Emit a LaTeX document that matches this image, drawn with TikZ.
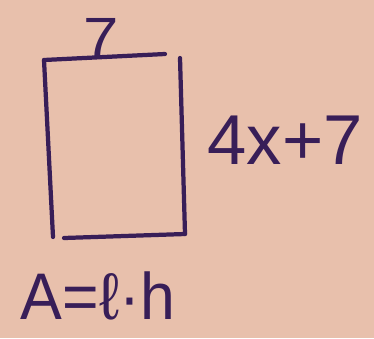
\documentclass[tikz,border=0pt]{standalone}
\usepackage[rgb]{xcolor}
\usepackage{tikz}
\usepackage{fontspec}
\setmainfont{Liberation Sans}
\definecolor{paper}{RGB}{232,192,172}
\definecolor{ink}{RGB}{56,30,88}

\begin{document}
\begin{tikzpicture}[x=0.85pt, y=-0.85pt,
  inkline/.style={draw=ink, line width=3.6pt, line cap=round},
  inktext/.style={text=ink, inner sep=0pt}]

% sheet of paper
\fill[paper] (0,0) rectangle (374,338);
\useasboundingbox (0,0) rectangle (374,338);

% corners of the hand drawn box
\path
(44,60) coordinate (topleft)
(165,54) coordinate (topright)
(53,237) coordinate (bottomleft)
(180,58) coordinate (righttop)
(185,234) coordinate (bottomright)
(64,238) coordinate (bottomstart);

% the four sides
\draw[inkline] (topleft) -- (topright);
\draw[inkline] (topleft) -- (bottomleft);
\draw[inkline] (righttop) -- (bottomright);
\draw[inkline] (bottomstart) -- (bottomright);

% side lengths and formula
\node[inktext, font=\fontsize{47}{47}\selectfont, xscale=1.15] (width) at (101,37) {7};
\node[inktext, font=\fontsize{60}{60}\selectfont] (height) at (285,140) {4x+7};
\node[inktext, font=\fontsize{56}{56}\selectfont, xscale=0.95] (area) at (98,296) {A=ℓ·h};

\end{tikzpicture}
\end{document}
